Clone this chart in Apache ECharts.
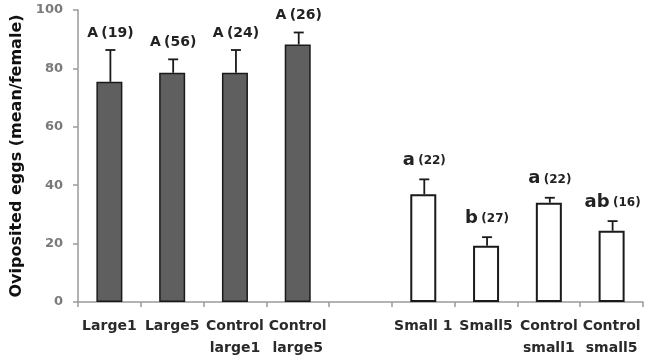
<!DOCTYPE html>
<html><head><meta charset="utf-8">
<script src="https://cdn.jsdelivr.net/npm/echarts@6/dist/echarts.min.js"></script>
<style>html,body{margin:0;padding:0;background:#fff}#c{width:652px;height:361px}</style>
</head><body><div id="c"></div>
<script>
var categories = ['Large1', 'Large5', 'Control\nlarge1', 'Control\nlarge5', '', 'Small 1', 'Small5', 'Control\nsmall1', 'Control\nsmall5'];
var largeMeans = [75.4, 78.5, 78.5, 88.2, '-', '-', '-', '-', '-'];
var smallMeans = ['-', '-', '-', '-', '-', 36.9, 19.3, 34.0, 24.4];
var errorTops = [86.3, 83.1, 86.3, 92.3, null, 42.0, 22.2, 35.7, 27.7];
var groupLetters = ['A', 'A', 'A', 'A', '', 'a', 'b', 'a', 'ab'];
var sampleSizes = ['(19)', '(56)', '(24)', '(26)', '', '(22)', '(27)', '(22)', '(16)'];

var means = largeMeans.map(function (v, i) { return v !== '-' ? v : smallMeans[i]; });
var errData = [];
for (var i = 0; i < categories.length; i++) {
  if (errorTops[i] != null) errData.push([i, means[i], errorTops[i]]);
}

var chart = echarts.init(document.getElementById('c'));
var FONT = '"DejaVu Sans", sans-serif';
chart.setOption({
  animation: false,
  grid: { left: 78, right: 9, top: 10, bottom: 59 },
  xAxis: {
    type: 'category', data: categories,
    axisLine: { lineStyle: { color: '#9a9a9a', width: 1.5 } },
    axisTick: { show: true, interval: 0, length: 5, lineStyle: { color: '#9a9a9a', width: 1.5 } },
    axisLabel: { interval: 0, color: '#2a2a2a', fontWeight: 'bold', fontSize: 14, fontFamily: FONT, lineHeight: 22, margin: 13 }
  },
  yAxis: {
    type: 'value', min: 0, max: 100, interval: 20,
    name: 'Oviposited eggs (mean/female)', nameLocation: 'middle', nameGap: 45,
    nameTextStyle: { fontWeight: 'bold', fontSize: 16, color: '#111', fontFamily: FONT },
    splitLine: { show: false },
    axisLine: { show: true, lineStyle: { color: '#9a9a9a', width: 1.5 } },
    axisTick: { show: true, length: 5, lineStyle: { color: '#9a9a9a', width: 1.5 } },
    axisLabel: { color: '#7a7a7a', fontWeight: 'bold', fontSize: 13, fontFamily: FONT, margin: 15 }
  },
  series: [
    {
      type: 'bar', data: largeMeans, barWidth: 26, barGap: '-100%',
      itemStyle: { color: '#5f5f5f', borderColor: '#1a1a1a', borderWidth: 1.5 }
    },
    {
      type: 'bar', data: smallMeans, barWidth: 26,
      itemStyle: { color: '#ffffff', borderColor: '#1a1a1a', borderWidth: 2 }
    },
    {
      type: 'custom', data: errData, z: 5,
      renderItem: function (params, api) {
        var idx = api.value(0);
        var base = api.coord([idx, api.value(1)]);
        var top = api.coord([idx, api.value(2)]);
        var x = base[0] + 1, cap = 5;
        return {
          type: 'group',
          children: [
            { type: 'line', shape: { x1: x, y1: base[1], x2: x, y2: top[1] }, style: { stroke: '#1a1a1a', lineWidth: 1.8 } },
            { type: 'line', shape: { x1: x - cap, y1: top[1], x2: x + cap, y2: top[1] }, style: { stroke: '#1a1a1a', lineWidth: 1.8 } },
            {
              type: 'text', x: x, y: top[1] - 10,
              style: {
                text: '{l|' + groupLetters[idx] + '} {n|' + sampleSizes[idx] + '}',
                align: 'center', verticalAlign: 'bottom',
                rich: {
                  l: { fontSize: idx > 4 ? 18 : 14, fontWeight: 'bold', fill: '#222', fontFamily: FONT, verticalAlign: 'bottom' },
                  n: { fontSize: idx > 4 ? 12 : 14, fontWeight: 'bold', fill: '#222', fontFamily: FONT, verticalAlign: 'bottom', padding: [0, 0, idx > 4 ? 2 : 0, 0] }
                }
              }
            }
          ]
        };
      }
    }
  ]
});
</script></body></html>
